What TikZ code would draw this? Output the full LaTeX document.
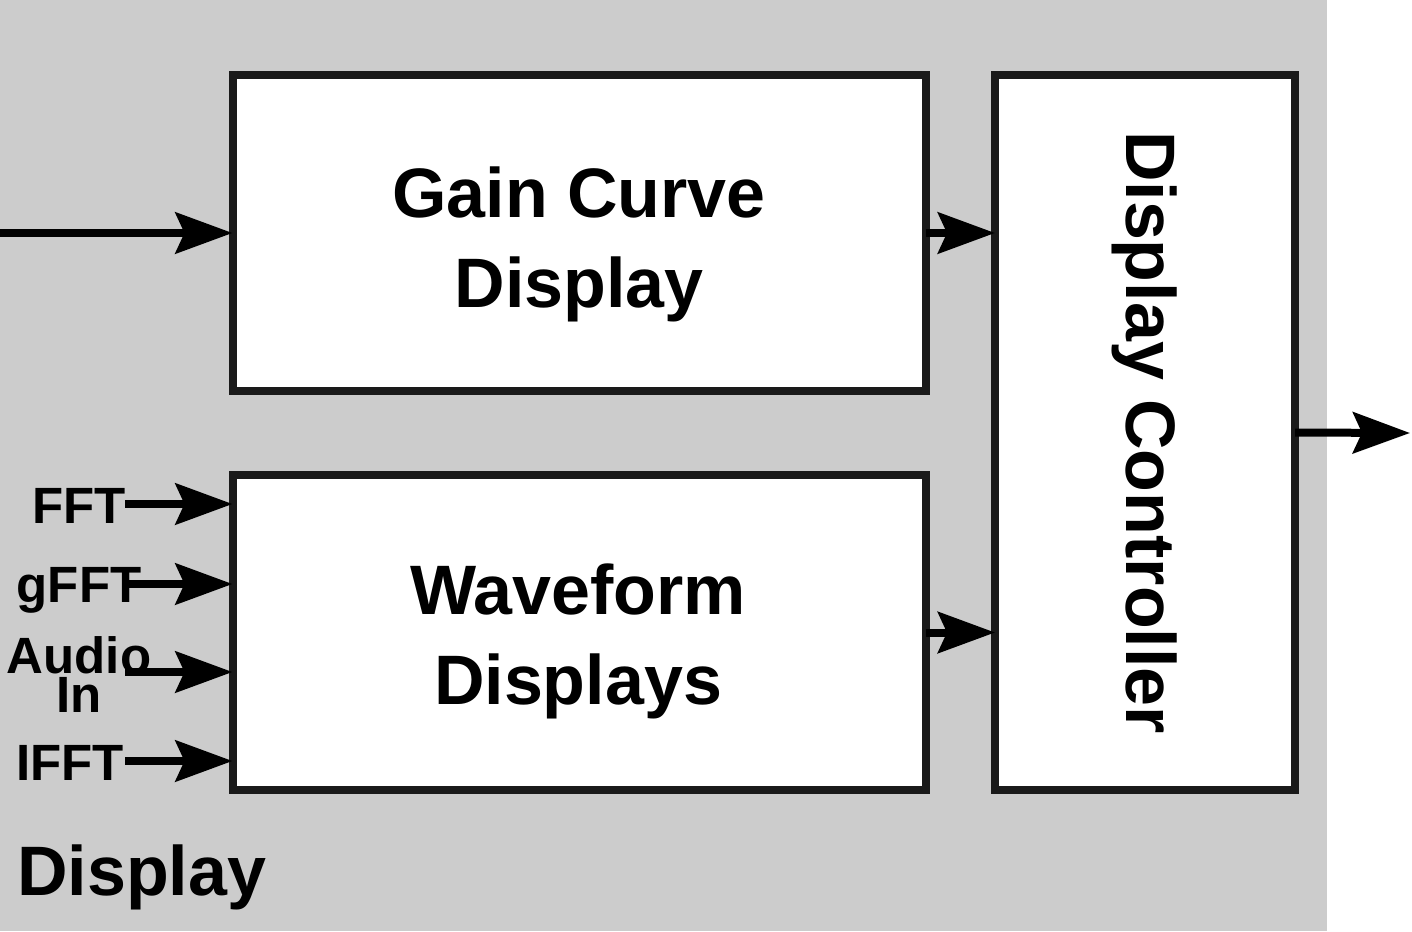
\documentclass[tikz,border=0pt]{standalone}
\usepackage{fontspec}
\setmainfont{Liberation Sans}
\usetikzlibrary{arrows.meta,calc}
\definecolor{bggray}{HTML}{CCCCCC}
\definecolor{edge}{HTML}{1A1A1A}
\begin{document}
\begin{tikzpicture}[x=1pt,y=-1pt,
  blockbox/.style={draw=edge,fill=white,line width=8pt,inner sep=0pt,outer sep=0pt},
  blocktext/.style={anchor=base,inner sep=0pt,align=center,
    font=\fontsize{70}{90}\selectfont\bfseries},
  inlabel/.style={anchor=base,inner sep=0pt,align=center,
    font=\fontsize{51}{39}\selectfont\bfseries},
  sig/.style={line width=8pt,draw=black,
    -{Stealth[length=57pt,width=41pt,inset=9pt]}}
]
\useasboundingbox (0,0) rectangle (1412,931);
\fill[bggray] (0,0) rectangle (1326.5,931);

\node[blockbox,minimum width=693pt,minimum height=316pt] (gain) at (579,233) {};
\node[blocktext] (gaintext) at (579,307) {Gain Curve\\Display};
\node[blockbox,minimum width=693pt,minimum height=315pt] (wave) at (579,632.5) {};
\node[blocktext] (wavetext) at (578,704) {Waveform\\Displays};
\node[blockbox,minimum width=300pt,minimum height=715pt] (dc) at (1145,432.5) {};
\node[rotate=-90,inner sep=0pt,font=\fontsize{70}{68}\selectfont\bfseries] (dctext) at (dc.center) {Display Controller};

\node[anchor=base west,inner sep=0pt,font=\fontsize{70}{68}\selectfont\bfseries] (title) at (17,895) {Display};

\node[inlabel] (lfft) at (79,523) {FFT};
\node[inlabel] (lgfft) at (79,602) {gFFT};
\node[inlabel] (laudio) at (79,712) {Audio\\In};
\node[inlabel] (lifft) at (70,780) {IFFT};

\coordinate (gin) at (0,233);
\coordinate (out) at (1410,433);
\coordinate (sfft) at (125,504);
\coordinate (sgfft) at (125,584);
\coordinate (saudio) at (125,672);
\coordinate (sifft) at (125,761);

\draw[sig] (gin) -- (gain.west);
\draw[sig] (gain.east) -- (gain.east -| dc.west);
\draw[sig] (wave.east) -- (wave.east -| dc.west);
\draw[sig] (dc.east) -- (out);
\draw[sig] (sfft) -- (sfft -| wave.west);
\draw[sig] (sgfft) -- (sgfft -| wave.west);
\draw[sig] (saudio) -- (saudio -| wave.west);
\draw[sig] (sifft) -- (sifft -| wave.west);
\end{tikzpicture}
\end{document}
